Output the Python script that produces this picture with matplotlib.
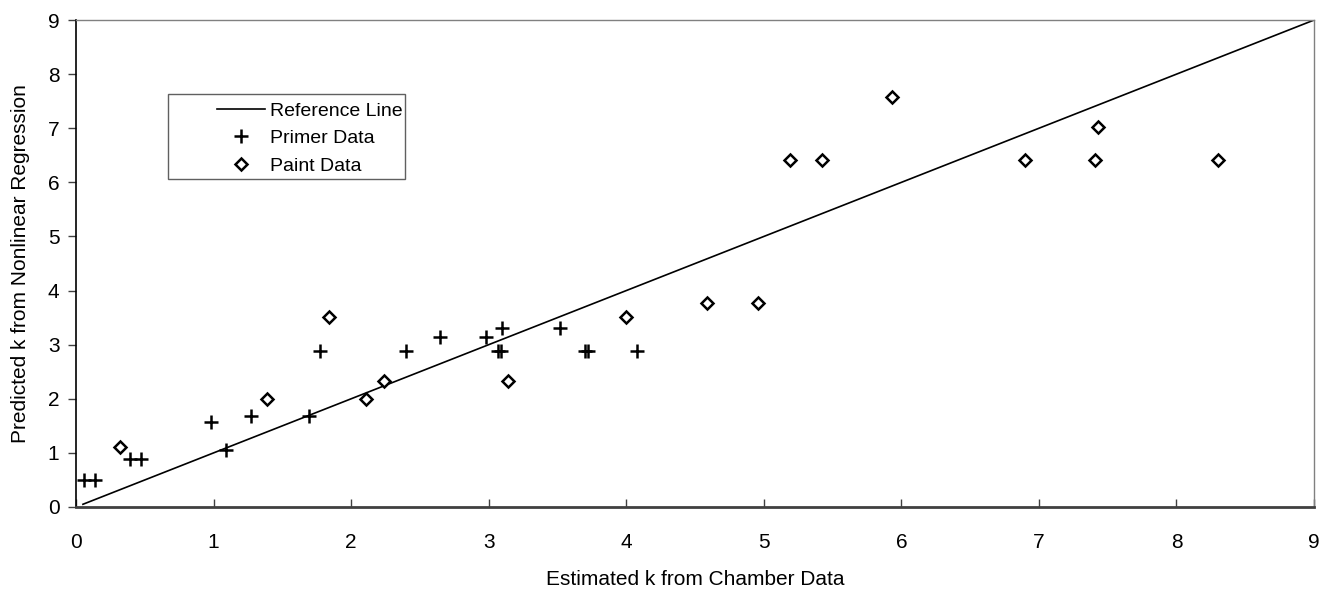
import matplotlib
matplotlib.use("Agg")
import matplotlib.pyplot as plt
from matplotlib.patches import Rectangle

plt.rcParams['font.family'] = ['Liberation Sans', 'DejaVu Sans']

ref_x = [0.05, 9.0]
ref_y = [0.05, 9.0]

primer_x = [0.06, 0.14, 0.39, 0.47, 0.98, 1.09, 1.27, 1.69, 1.77, 2.40, 2.645, 2.98,
            3.07, 3.09, 3.10, 3.52, 3.70, 3.72, 4.08]
primer_y = [0.50, 0.50, 0.89, 0.89, 1.57, 1.05, 1.69, 1.69, 2.88, 2.88, 3.14, 3.14,
            2.88, 2.88, 3.31, 3.31, 2.88, 2.88, 2.88]

paint_x = [0.32, 1.39, 1.84, 2.105, 2.24, 3.14, 4.00, 4.59, 4.96, 5.19, 5.42, 5.93,
           6.90, 7.41, 7.43, 8.30]
paint_y = [1.10, 2.00, 3.52, 2.00, 2.33, 2.33, 3.52, 3.77, 3.77, 6.42, 6.42, 7.58,
           6.42, 6.42, 7.03, 6.42]

FS = 15

fig = plt.figure(figsize=(13.25, 5.9), dpi=100)
ax = fig.add_axes([0.0574, 0.1407, 0.9343, 0.8253])

ax.plot(ref_x, ref_y, color='black', lw=1.2, label='Reference Line')
ax.plot(primer_x, primer_y, linestyle='none', marker='+', markersize=10,
        markeredgewidth=1.8, color='black', label='Primer Data')
ax.plot(paint_x, paint_y, linestyle='none', marker='D', markersize=6.2,
        markeredgewidth=1.8, markerfacecolor='white', markeredgecolor='black',
        label='Paint Data')

ax.set_xlim(0, 9)
ax.set_ylim(0, 9)
ax.set_xticks(range(0, 10))
ax.set_yticks(range(0, 10))
ax.tick_params(axis='x', labelsize=FS, direction='in', length=6, width=1,
               colors='#404040', labelcolor='black', pad=19)
ax.tick_params(axis='y', labelsize=FS, direction='out', length=6, width=1,
               colors='#404040', labelcolor='black', pad=6)
ax.set_xlabel('Estimated k from Chamber Data', fontsize=FS, labelpad=13)
ax.set_ylabel('Predicted k from Nonlinear Regression', fontsize=FS, labelpad=13)
ax.spines['top'].set_color('#808080')
ax.spines['right'].set_color('#808080')
ax.spines['top'].set_linewidth(1.0)
ax.spines['right'].set_linewidth(1.0)
ax.spines['left'].set_color('black')
ax.spines['left'].set_linewidth(1.2)
ax.spines['bottom'].set_color('#404040')
ax.spines['bottom'].set_linewidth(2.0)

# legend frame drawn separately (Excel-style wide left margin)
ax.add_patch(Rectangle((0.0743, 0.6735), 0.2658 - 0.0743, 0.848 - 0.6735,
                       transform=ax.transAxes, facecolor='white', edgecolor='#606060',
                       lw=1.0, zorder=4))
leg = ax.legend(loc='upper left', bbox_to_anchor=(0.1139, 0.831), fontsize=14,
                frameon=False, handlelength=2.45, handletextpad=0.25, borderpad=0,
                labelspacing=0.5, borderaxespad=0, markerscale=1.0)
leg.set_zorder(5)

fig.savefig('out.png', dpi=100)
